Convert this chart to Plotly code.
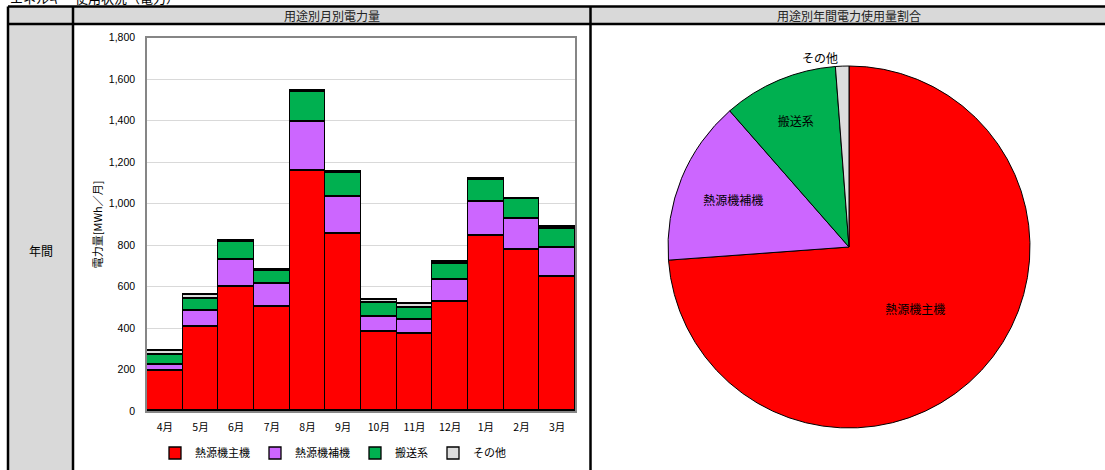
import plotly.graph_objects as go

W, H = 1105, 470

months = ["4月", "5月", "6月", "7月", "8月", "9月", "10月", "11月", "12月", "1月", "2月", "3月"]
main_heat = [193, 407, 601, 505, 1157, 857, 384, 374, 529, 847, 779, 648]
aux_heat = [32, 78, 129, 107, 236, 175, 72, 68, 103, 162, 147, 141]
transport = [45, 58, 85, 65, 148, 116, 65, 58, 80, 106, 96, 89]
other = [20, 18, 8, 6, 5, 4, 14, 16, 10, 5, 3, 9]

series_names = ["熱源機主機", "熱源機補機", "搬送系", "その他"]
series_values = [main_heat, aux_heat, transport, other]
series_colors = ["#FF0000", "#CC66FF", "#00B050", "#DCDCDC"]

pie_values = [sum(v) for v in series_values]

JP = "Noto Sans CJK JP"
NUM = "Liberation Sans"

fig = go.Figure()
for name, vals, col in zip(series_names, series_values, series_colors):
    fig.add_trace(go.Bar(
        x=months, y=vals, name=name,
        marker=dict(color=col, line=dict(color="#000000", width=1.3)),
        xaxis="x", yaxis="y",
    ))

fig.add_trace(go.Pie(
    labels=series_names, values=pie_values,
    marker=dict(colors=series_colors, line=dict(color="#000000", width=1)),
    sort=False, direction="clockwise", rotation=0,
    textinfo="label", textposition=["inside", "inside", "inside", "outside"],
    insidetextorientation="horizontal",
    textfont=dict(family=JP, size=12, color="#000000"),
    showlegend=False,
    domain=dict(x=[668 / W, 1030 / W], y=[1 - 428 / H, 1 - 66 / H]),
))

def px(x):
    return x / W

def py(y):
    return 1 - y / H

shapes = [
    # header fill
    dict(type="rect", xref="paper", yref="paper", x0=px(8), x1=px(1106), y0=py(24), y1=py(6.5),
         fillcolor="#D9D9D9", line=dict(width=0), layer="below"),
    # left column fill
    dict(type="rect", xref="paper", yref="paper", x0=px(8), x1=px(73), y0=py(471), y1=py(24),
         fillcolor="#D9D9D9", line=dict(width=0), layer="below"),
]
for (x0, y0, x1, y1) in [
    (8, 6.5, 1106, 6.5),
    (8, 24, 1106, 24),
    (8, 6.5, 8, 471),
    (73, 6.5, 73, 471),
    (590.5, 6.5, 590.5, 471),
]:
    shapes.append(dict(type="line", xref="paper", yref="paper", x0=px(x0), x1=px(x1),
                       y0=py(y0), y1=py(y1), line=dict(color="#000000", width=2.5)))

annotations = [
    dict(text="エネルギー使用状況（電力）", xref="paper", yref="paper", x=px(8), y=py(-3),
         xanchor="left", yanchor="middle", showarrow=False,
         font=dict(family=JP, size=13, color="#000000")),
    dict(text="用途別月別電力量", xref="paper", yref="paper", x=px(332), y=py(15.5),
         xanchor="center", yanchor="middle", showarrow=False,
         font=dict(family=JP, size=12, color="#222222")),
    dict(text="用途別年間電力使用量割合", xref="paper", yref="paper", x=px(849), y=py(15.5),
         xanchor="center", yanchor="middle", showarrow=False,
         font=dict(family=JP, size=12, color="#222222")),
    dict(text="年間", xref="paper", yref="paper", x=px(40.5), y=py(250),
         xanchor="center", yanchor="middle", showarrow=False,
         font=dict(family=JP, size=12, color="#000000")),
]

fig.update_layout(
    width=W, height=H,
    margin=dict(l=0, r=0, t=0, b=0, autoexpand=False),
    paper_bgcolor="#FFFFFF", plot_bgcolor="#FFFFFF",
    barmode="stack", bargap=0,
    shapes=shapes, annotations=annotations,
    xaxis=dict(domain=[147 / W, 575 / W], anchor="y", automargin=False,
               showline=True, linecolor="#868686", linewidth=1.5, mirror=True,
               ticks="outside", ticklen=6, tickcolor="rgba(0,0,0,0)",
               tickfont=dict(family=JP, size=10.5, color="#000000")),
    yaxis=dict(domain=[1 - 411 / H, 1 - 37.7 / H], anchor="x", automargin=False,
               range=[0, 1800], dtick=200, tickformat=",",
               showgrid=True, gridcolor="#D9D9D9", gridwidth=1,
               showline=True, linecolor="#868686", linewidth=1.5, mirror=True,
               ticks="outside", ticklen=8, tickcolor="rgba(0,0,0,0)",
               tickfont=dict(family=NUM, size=10.5, color="#000000"),
               title=dict(text="電力量[MWh／月]", standoff=4,
                          font=dict(family=JP, size=11, color="#000000"))),
    legend=dict(orientation="h", traceorder="normal", x=px(333), y=py(453),
                xanchor="center", yanchor="middle",
                font=dict(family=JP, size=11, color="#000000"),
                itemwidth=30, bgcolor="rgba(0,0,0,0)"),
)

fig.write_html("out.html")
